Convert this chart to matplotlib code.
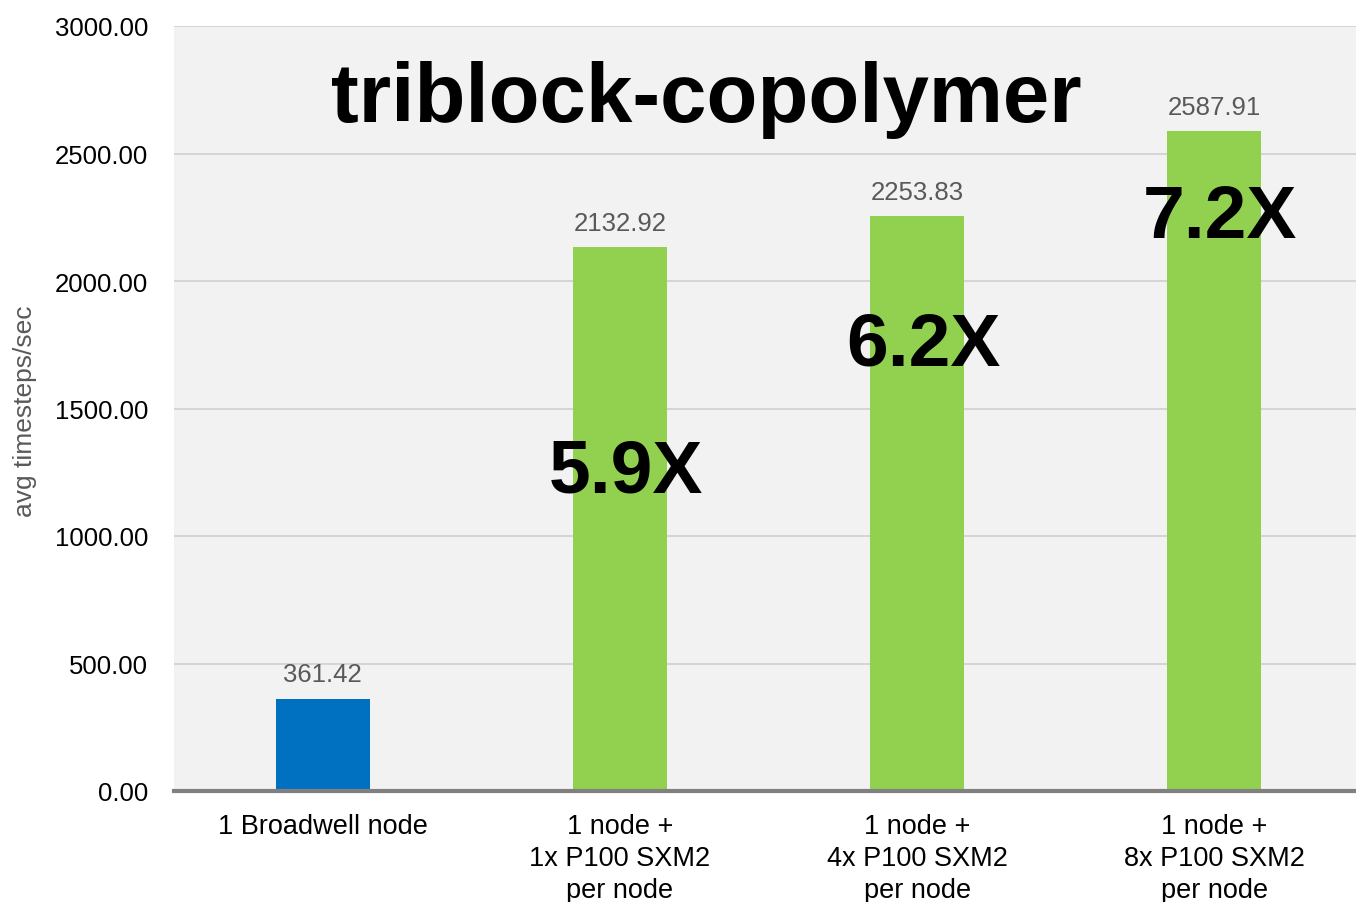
import matplotlib
matplotlib.use("Agg")
import matplotlib.pyplot as plt

categories = ["1 Broadwell node", "1 node +\n1x P100 SXM2\nper node",
              "1 node +\n4x P100 SXM2\nper node", "1 node +\n8x P100 SXM2\nper node"]
values = [361.42, 2132.92, 2253.83, 2587.91]
speedups = ["", "5.9X", "6.2X", "7.2X"]
speedup_y = [0, 1250, 1750, 2250]
bar_colors = ["#0070C0", "#92D050", "#92D050", "#92D050"]
yticks = [0, 500, 1000, 1500, 2000, 2500, 3000]
title = "triblock-copolymer"
ylabel = "avg timesteps/sec"

plt.rcParams['font.family'] = ['Liberation Sans', 'DejaVu Sans']

W, H = 1356, 903
fig = plt.figure(figsize=(W / 100, H / 100), dpi=100)
ax = fig.add_axes([174 / W, (H - 792) / H, (1363 - 174) / W, (792 - 27) / H])
ax.set_facecolor("#F2F2F2")

x = list(range(len(categories)))
ax.bar(x, values, width=0.316, color=bar_colors, zorder=3)
ax.set_xlim(-0.5, len(categories) - 0.5)
ax.set_ylim(0, 3000)
ax.set_yticks(yticks)
ax.set_yticklabels([f"{v:.2f}" for v in yticks], fontsize=18.5, color="black")
ax.set_xticks(x)
ax.set_xticklabels(categories, fontsize=19.5, color="black", linespacing=1.3)
ax.tick_params(axis='both', length=0)
ax.tick_params(axis='y', pad=18.5)
ax.tick_params(axis='x', pad=16)
ax.grid(axis='y', color="#D0D0D0", linewidth=1.2, zorder=0)
for s in ["top", "right", "left"]:
    ax.spines[s].set_visible(False)
ax.spines["bottom"].set_color("#808080")
ax.spines["bottom"].set_linewidth(3)
ax.spines["bottom"].set_zorder(4)

for xi, v in zip(x, values):
    ax.annotate(f"{v:.2f}", (xi, v), xytext=(0, 9), textcoords="offset points",
                ha="center", va="bottom", fontsize=18.5, color="#595959", zorder=5)

for xi, s, sy in zip(x, speedups, speedup_y):
    if s:
        ax.text(xi + 0.02, sy, s, ha="center", va="center", fontsize=54,
                fontweight="bold", color="black", zorder=5)

ax.text(0.448, 0.905, title, transform=ax.transAxes, ha="center", va="center",
        fontsize=60, fontweight="bold", color="black", zorder=5)

fig.text(25 / W, 1 - 411 / H, ylabel, rotation=90, ha="center", va="center",
         fontsize=19, color="#595959")

fig.savefig("out.png", dpi=100)
